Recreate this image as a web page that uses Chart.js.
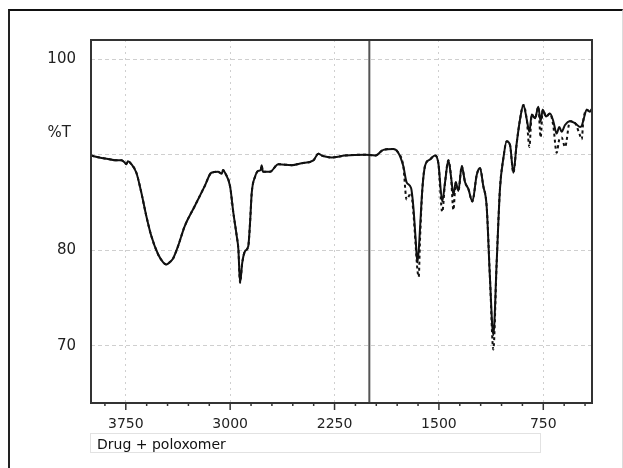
<!DOCTYPE html>
<html>
<head>
<meta charset="utf-8">
<script src="https://cdn.jsdelivr.net/npm/chart.js@4.4.0/dist/chart.umd.min.js"></script>
<style>
  body { margin: 0; background: #fff; }
  #wrap { position: relative; width: 623px; height: 468px; overflow: hidden; }
  #frame { position: absolute; left: 8px; top: 9px; width: 612px; height: 470px;
           border-top: 2px solid #111; border-left: 2px solid #222; border-right: 1px solid #dcdcdc; }
  #chart { position: absolute; left: 0; top: 0; }
  #legend { position: absolute; left: 90px; top: 433px; width: 451px; height: 20px;
            border: 1px solid #e2e2e2; font: 14px "DejaVu Sans", sans-serif; line-height: 20px;
            padding-left: 6px; box-sizing: border-box; color: #111; }
</style>
</head>
<body>
<div id="wrap">
  <div id="frame"></div>
  <canvas id="chart" width="623" height="468"></canvas>
  <div id="legend">Drug + poloxomer</div>
</div>
<script>
// wavenumbers (cm-1)
const wavenumbers = [
  4000, 3940, 3878, 3820, 3782, 3760, 3746, 3735, 3710, 3674,
  3638, 3603, 3567, 3519, 3480, 3459, 3430, 3411, 3375, 3327,
  3255, 3183, 3135, 3087, 3060, 3051, 3037, 3001, 2977, 2953,
  2941, 2929, 2913, 2893, 2870, 2857, 2845, 2821, 2798, 2780,
  2774, 2765, 2714, 2654, 2558, 2486, 2402, 2366, 2340, 2318,
  2270, 2175, 2031, 1959, 1899, 1828, 1792, 1756, 1732, 1700,
  1684, 1667, 1655, 1645, 1636, 1619, 1600, 1564, 1528, 1504,
  1476, 1456, 1432, 1413, 1396, 1379, 1360, 1336, 1312, 1288,
  1260, 1228, 1205, 1181, 1157, 1133, 1109, 1085, 1061, 1037,
  1013, 989, 965, 941, 917, 893, 869, 850, 833, 809,
  786, 769, 754, 730, 702, 678, 654, 635, 618, 594,
  558, 522, 486, 474, 462, 438, 414, 400
];
// %T, solid trace
const solidT = [
  89.9, 89.7, 89.55, 89.4, 89.4, 89.2, 89.0, 89.3, 89.0, 88.1,
  86.0, 83.6, 81.5, 79.6, 78.7, 78.5, 78.8, 79.1, 80.4, 82.5,
  84.6, 86.7, 88.1, 88.2, 88.0, 88.4, 88.1, 86.7, 83.9, 81.5,
  80.1, 76.6, 78.7, 79.9, 80.4, 82.9, 86.0, 87.7, 88.3, 88.4,
  88.9, 88.2, 88.2, 89.0, 88.9, 89.1, 89.4, 90.1, 89.9, 89.8,
  89.7, 89.9, 90.0, 89.9, 90.5, 90.6, 90.2, 88.8, 87.1, 86.5,
  84.6, 81.1, 78.7, 80.0, 82.2, 86.4, 88.8, 89.5, 89.9, 89.1,
  85.1, 87.1, 89.4, 87.7, 85.8, 87.1, 86.2, 88.8, 87.1, 86.4,
  85.1, 87.9, 88.6, 86.7, 84.6, 77.0, 71.1, 78.7, 86.5, 89.6,
  91.4, 91.0, 88.1, 91.2, 93.7, 95.2, 93.7, 92.4, 94.2, 93.8,
  95.0, 93.5, 94.7, 94.0, 94.3, 93.5, 92.2, 92.9, 92.4, 93.1,
  93.5, 93.3, 92.9, 93.0, 93.6, 94.7, 94.5, 94.8
];
// %T, dashed trace (shows only where it dips below the solid one)
const dashedT = [
  89.9, 89.7, 89.55, 89.4, 89.4, 89.2, 89.0, 89.3, 89.0, 88.1,
  86.0, 83.6, 81.5, 79.6, 78.7, 78.5, 78.8, 79.1, 80.4, 82.5,
  84.6, 86.7, 88.1, 88.2, 88.0, 88.4, 88.1, 86.7, 83.9, 81.5,
  80.1, 76.6, 78.7, 79.9, 80.4, 82.9, 86.0, 87.7, 88.3, 88.4,
  88.9, 88.2, 88.2, 89.0, 88.9, 89.1, 89.4, 90.1, 89.9, 89.8,
  89.7, 89.9, 90.0, 89.9, 90.5, 90.6, 90.2, 88.8, 85.3, 86.0,
  84.0, 80.5, 78.0, 77.2, 81.0, 86.4, 88.8, 89.5, 89.9, 89.1,
  84.0, 87.1, 89.4, 87.7, 84.2, 87.1, 86.2, 88.8, 87.1, 86.4,
  85.1, 87.9, 88.6, 86.7, 84.6, 77.0, 69.6, 78.7, 86.5, 89.6,
  91.4, 91.0, 88.1, 91.2, 93.7, 95.2, 93.7, 90.8, 94.2, 93.8,
  95.0, 91.8, 94.7, 94.0, 94.3, 93.0, 90.2, 91.6, 91.8, 90.8,
  93.5, 93.3, 92.0, 91.6, 93.6, 94.7, 94.5, 94.8
];

const xLabels = [3750, 3000, 2250, 1500, 750];
const yTicks = [100, 90, 80, 70];
const scaleBreak = 2000;

const boxPlugin = {
  id: 'box',
  beforeDatasetsDraw(chart) {
    const { ctx, chartArea: a, scales: { x } } = chart;
    const px = x.getPixelForValue(scaleBreak);
    ctx.save();
    ctx.strokeStyle = '#555';
    ctx.lineWidth = 2;
    ctx.beginPath();
    ctx.moveTo(px, a.top);
    ctx.lineTo(px, a.bottom);
    ctx.stroke();
    ctx.restore();
  },
  afterDraw(chart) {
    const { ctx, chartArea: a, scales: { x, y } } = chart;
    ctx.save();
    ctx.strokeStyle = '#333';
    ctx.lineWidth = 2;
    ctx.strokeRect(a.left, a.top, a.right - a.left, a.bottom - a.top);
    // tick marks, longer at the labelled ones
    ctx.lineWidth = 1.5;
    x.ticks.forEach(t => {
      const px = x.getPixelForValue(t.value);
      const len = xLabels.includes(t.value) ? 7 : 3;
      ctx.beginPath();
      ctx.moveTo(px, a.bottom);
      ctx.lineTo(px, a.bottom + len);
      ctx.stroke();
    });
    ctx.fillStyle = '#222';
    ctx.font = '15px "DejaVu Sans", sans-serif';
    ctx.textAlign = 'right';
    ctx.textBaseline = 'middle';
    ctx.fillText('%T', 71, y.getPixelForValue(92.3));
    ctx.restore();
  }
};

new Chart(document.getElementById('chart'), {
  type: 'line',
  data: {
    datasets: [
      {
        label: 'Drug + poloxomer (dashed)',
        data: wavenumbers.map((w, i) => ({ x: w, y: dashedT[i] })),
        borderColor: '#111',
        borderWidth: 2,
        borderDash: [3, 3],
        pointRadius: 0,
        cubicInterpolationMode: 'monotone'
      },
      {
        label: 'Drug + poloxomer',
        data: wavenumbers.map((w, i) => ({ x: w, y: solidT[i] })),
        borderColor: '#111',
        borderWidth: 2,
        pointRadius: 0,
        cubicInterpolationMode: 'monotone'
      }
    ]
  },
  options: {
    responsive: false,
    devicePixelRatio: 1,
    animation: false,
    layout: { padding: { top: 40, right: 31, bottom: 35, left: 0 } },
    plugins: { legend: { display: false }, tooltip: { enabled: false } },
    scales: {
      x: {
        type: 'linear',
        reverse: true,
        min: 400,
        max: 4000,
        afterBuildTicks: scale => {
          const ticks = [];
          for (let v = 450; v <= 3900; v += 150) ticks.push({ value: v });
          scale.ticks = ticks;
        },
        afterFit: scale => { scale.height = 30; },
        ticks: {
          autoSkip: false,
          maxRotation: 0,
          padding: 13,
          color: '#222',
          font: { family: '"DejaVu Sans", sans-serif', size: 14 },
          callback: v => xLabels.includes(v) ? String(v) : ''
        },
        grid: {
          drawTicks: false,
          lineWidth: 1,
          color: c => (c.tick && xLabels.includes(c.tick.value)) ? '#cfcfcf' : 'rgba(0,0,0,0)'
        },
        border: { display: false, dash: [2, 4] }
      },
      y: {
        min: 64,
        max: 102,
        afterBuildTicks: scale => { scale.ticks = yTicks.map(v => ({ value: v })); },
        afterFit: scale => { scale.width = 91; },
        ticks: {
          padding: 15,
          color: '#222',
          font: { family: '"DejaVu Sans", sans-serif', size: 15 },
          callback: v => v === 90 ? '' : String(v)
        },
        grid: { drawTicks: false, color: '#cfcfcf', lineWidth: 1 },
        border: { display: false, dash: [4, 3] }
      }
    }
  },
  plugins: [boxPlugin]
});
</script>
</body>
</html>
